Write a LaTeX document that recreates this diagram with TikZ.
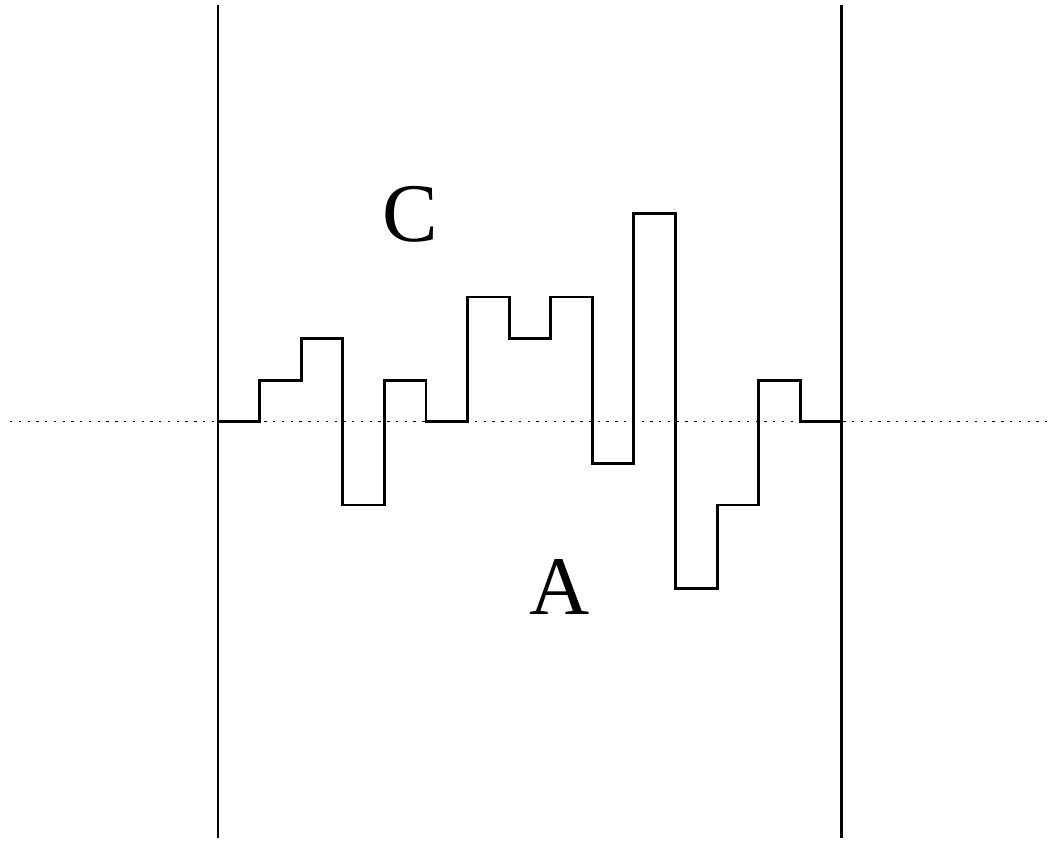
\documentclass[tikz,border=0pt]{standalone}
\usepackage{fontspec}
\setmainfont{Liberation Serif}
\usepackage{tikz}
\usetikzlibrary{positioning}

\begin{document}
\begin{tikzpicture}[x=5mm,y=5mm,every node/.style={font=\fontsize{28.5}{30}\selectfont}]
    \tikzstyle{wall}=[line width=1pt];
    \tikzstyle{stepline}=[line width=1pt,line join=miter];
    \tikzstyle{level}=[line width=0.4pt,dash pattern=on 0.8pt off 2.2pt];
    \useasboundingbox (-5.24,-10.10) rectangle (20.17,10.14);

    % reference level and the two walls
    \draw[level] (-5.0,0) -- (19.93,0);
    \draw[wall] (0,-10.0) -- (0,10.02);
    \draw[wall] (15,-10.0) -- (15,10.02);

    % interface profile
    \draw[stepline] (0,0)
      \foreach \h [count=\i from 0] in {0,1,2,-2,1,0,3,2,3,-1,5,-4,-2,1,0} { |- (\i+1,\h) };

    \node[anchor=base,inner sep=0pt] (c) at (4.62,4.33)  {C};
    \node[anchor=base,inner sep=0pt] (a) at (8.21,-4.64) {A};
\end{tikzpicture}
\end{document}
